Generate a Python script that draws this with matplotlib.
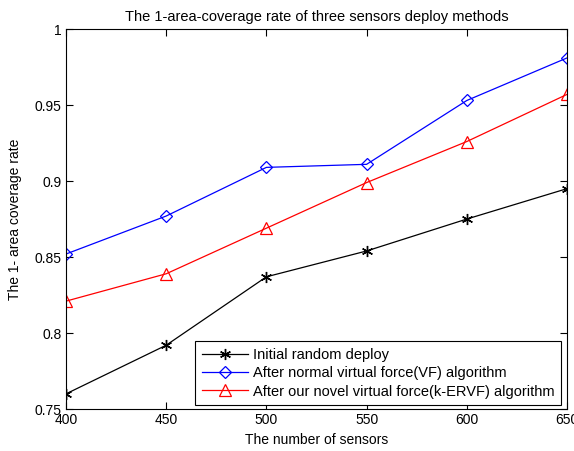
import matplotlib
matplotlib.use('Agg')
import matplotlib.pyplot as plt
from matplotlib.ticker import FuncFormatter

plt.rcParams['font.family'] = ['Liberation Sans', 'DejaVu Sans']

# number of deployed sensors
sensors = [400, 450, 500, 550, 600, 650]

# 1-area coverage rate for each deploy method
initial = [0.760, 0.792, 0.837, 0.854, 0.875, 0.895]
vf = [0.852, 0.877, 0.909, 0.911, 0.953, 0.981]
kervf = [0.821, 0.839, 0.869, 0.899, 0.926, 0.957]

labels = ['Initial random deploy',
          'After normal virtual force(VF) algorithm',
          'After our novel virtual force(k-ERVF) algorithm']

fig = plt.figure(figsize=(5.74, 4.51), dpi=100)
ax = fig.add_axes([0.115, 0.093, 0.8728, 0.8426])

ax.plot(sensors, initial, color='k', marker=(6, 2, 0), markersize=8, mew=1.0,
        lw=0.9, label=labels[0])
ax.plot(sensors, vf, color='b', marker='D', markersize=6, mfc='none', mew=0.9,
        lw=0.9, label=labels[1])
ax.plot(sensors, kervf, color='r', marker='^', markersize=8, mfc='none', mew=0.9,
        lw=0.9, label=labels[2])

ax.set_xlim(400, 650)
ax.set_ylim(0.75, 1.0)
ax.set_xticks(sensors)
ax.set_yticks([0.75, 0.8, 0.85, 0.9, 0.95, 1.0])
ax.yaxis.set_major_formatter(FuncFormatter(lambda v, p: '%g' % round(v, 2)))
ax.tick_params(direction='in', top=True, right=True, labelsize=10, length=5,
               width=0.8, pad=3)
for s in ax.spines.values():
    s.set_linewidth(0.8)

ax.set_xlabel('The number of sensors', fontsize=10, labelpad=4)
ax.set_ylabel('The 1- area coverage rate', fontsize=10, labelpad=9)
ax.set_title('The 1-area-coverage rate of three sensors deploy methods',
             fontsize=10.5, pad=6)

# legend box sits just inside the lower right corner
leg = ax.legend(loc='lower right', bbox_to_anchor=(0.988, 0.0105),
                fontsize=10.5, fancybox=False, edgecolor='k', framealpha=1,
                borderaxespad=0, handlelength=3.2, handletextpad=0.3,
                labelspacing=0.3, borderpad=0.45)
leg.get_frame().set_linewidth(0.8)

fig.savefig('out.png', dpi=100)
